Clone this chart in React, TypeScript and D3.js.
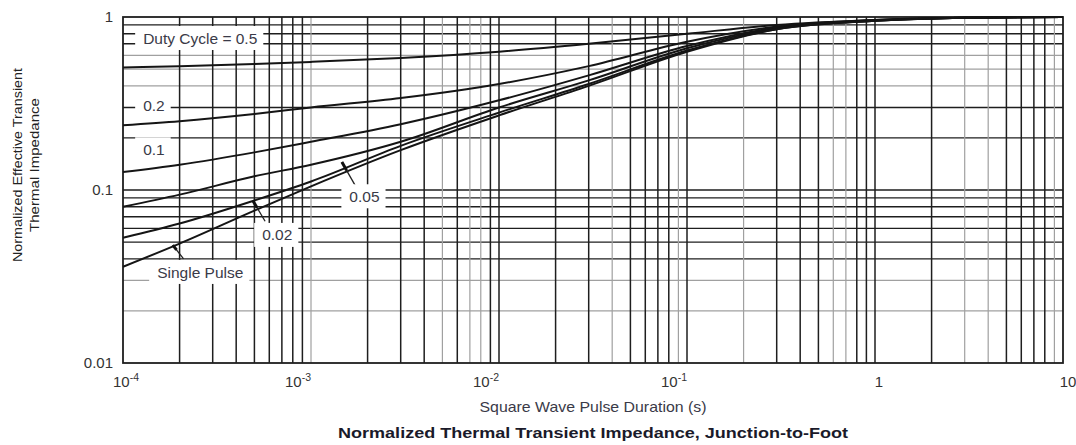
import React from 'react';
import * as d3 from 'd3';

// ---- data ----
const pulseDuration = [1e-4, 2e-4, 5e-4, 1e-3, 3e-3, 1e-2, 3e-2, 0.1, 0.3, 1, 3, 10];
const dutyCycle05 = [0.51, 0.52, 0.535, 0.55, 0.58, 0.63, 0.70, 0.80, 0.90, 0.96, 0.99, 1.0];
const dutyCycle02 = [0.237, 0.25, 0.275, 0.30, 0.34, 0.41, 0.52, 0.72, 0.88, 0.96, 0.99, 1.0];
const dutyCycle01 = [0.127, 0.14, 0.165, 0.19, 0.24, 0.33, 0.46, 0.68, 0.87, 0.96, 0.99, 1.0];
const dutyCycle005 = [0.08, 0.094, 0.12, 0.14, 0.19, 0.30, 0.43, 0.66, 0.86, 0.95, 0.99, 1.0];
const dutyCycle002 = [0.053, 0.064, 0.087, 0.112, 0.18, 0.28, 0.41, 0.64, 0.85, 0.95, 0.99, 1.0];
const singlePulse = [0.036, 0.049, 0.076, 0.105, 0.17, 0.27, 0.40, 0.63, 0.85, 0.95, 0.99, 1.0];
const seriesList = [dutyCycle05, dutyCycle02, dutyCycle01, dutyCycle005, dutyCycle002, singlePulse];

const xTickExponents = [-4, -3, -2, -1, 0, 1];
const yTickValues = [0.01, 0.1, 1];
const yTickLabels = ['0.01', '0.1', '1'];
const lightVertical = [1e-3, 5e-3, 7e-3, 8e-3, 4e-2, 9e-2, 0.2, 0.6, 0.7, 3, 4, 9];
const lightHorizontal = [0.02, 0.03, 0.4, 0.5, 0.6];

const curveLabels = [
  { text: 'Duty Cycle = 0.5', t: 1.28e-4, z: 0.756 },
  { text: '0.2', t: 1.28e-4, z: 0.31 },
  { text: '0.1', t: 1.28e-4, z: 0.172 },
  { text: 'Single Pulse', t: 1.52e-4, z: 0.0336 },
  { text: '0.02', t: 5.5e-4, z: 0.055 },
  { text: '0.05', t: 1.6e-3, z: 0.092 },
];
const leaders = [
  { t1: 1.84e-4, z1: 0.048, t2: 2.1e-4, z2: 0.040 },
  { t1: 4.9e-4, z1: 0.087, t2: 5.7e-4, z2: 0.066 },
  { t1: 1.46e-3, z1: 0.145, t2: 1.72e-3, z2: 0.106 },
];

const xTitle = 'Square Wave Pulse Duration (s)';
const chartTitle = 'Normalized Thermal Transient Impedance, Junction-to-Foot';
const yTitle1 = 'Normalized Effective Transient';
const yTitle2 = 'Thermal Impedance';

const W = 1076;
const H = 445;
const FONT = '"Liberation Sans", Arial, Helvetica, sans-serif';
const LABEL_SIZE = 15.5;

function measure(text: string, size: number): number {
  try {
    const c = document.createElement('canvas').getContext('2d');
    if (c) {
      c.font = `${size}px "Liberation Sans", Arial, sans-serif`;
      return c.measureText(text).width;
    }
  } catch (e) {}
  return text.length * size * 0.5;
}

export default function App() {
  const x = d3.scaleLog().domain([1e-4, 10]).range([123, 1063]);
  const y = d3.scaleLog().domain([0.01, 1]).range([363, 17]);

  const vGrid: number[] = [];
  for (let d = -4; d <= 0; d++) {
    for (let m = 1; m <= 9; m++) {
      const v = m * Math.pow(10, d);
      if (d === -4 && m === 1) continue;
      vGrid.push(v);
    }
  }
  const hGrid: number[] = [];
  for (let d = -2; d <= -1; d++) {
    for (let m = 1; m <= 9; m++) {
      const v = m * Math.pow(10, d);
      if (d === -2 && m === 1) continue;
      hGrid.push(v);
    }
  }
  const isLight = (arr: number[], v: number) => arr.some((a) => Math.abs(a - v) / a < 1e-6);

  const line = d3
    .line<number>()
    .x((_, i) => x(pulseDuration[i]))
    .y((v) => y(v))
    .curve(d3.curveMonotoneX);

  const [x0, x1] = x.range();
  const [yb, yt] = y.range();

  return (
    <svg
      width={W}
      height={H}
      viewBox={`0 0 ${W} ${H}`}
      style={{ position: 'absolute', left: 0, top: 0, background: '#fff', display: 'block' }}
      fontFamily={FONT}
    >
      <rect x={0} y={0} width={W} height={H} fill="#fff" />
      {/* horizontal grid */}
      {hGrid.map((v) => (
        <line
          key={'h' + v}
          x1={x0}
          x2={x1}
          y1={y(v)}
          y2={y(v)}
          stroke={isLight(lightHorizontal, v) ? '#a0a0a0' : '#1e1e1e'}
          strokeWidth={isLight(lightHorizontal, v) ? 1.2 : 1.4}
        />
      ))}
      {/* vertical grid */}
      {vGrid.map((v) => (
        <line
          key={'v' + v}
          x1={x(v)}
          x2={x(v)}
          y1={yb}
          y2={yt}
          stroke={isLight(lightVertical, v) ? '#a0a0a0' : '#1e1e1e'}
          strokeWidth={isLight(lightVertical, v) ? 1.2 : 1.5}
        />
      ))}
      {/* frame */}
      <rect x={x0} y={yt} width={x1 - x0} height={yb - yt} fill="none" stroke="#1e1e1e" strokeWidth={1.8} />

      {/* curves */}
      {seriesList.map((s, i) => (
        <path key={'c' + i} d={line(s) || ''} fill="none" stroke="#151515" strokeWidth={2} strokeLinejoin="round" />
      ))}

      {/* leaders */}
      {leaders.map((l, i) => {
        const ax = x(l.t1), ay = y(l.z1), bx = x(l.t2), by = y(l.z2);
        const mx = ax + (bx - ax) * 0.35, my = ay + (by - ay) * 0.35;
        return (
          <g key={'l' + i}>
            <line x1={ax} y1={ay} x2={bx} y2={by} stroke="#222" strokeWidth={1.3} />
            <line x1={ax} y1={ay} x2={mx} y2={my} stroke="#111" strokeWidth={3} />
          </g>
        );
      })}

      {/* curve labels with white boxes */}
      {curveLabels.map((c, i) => {
        const tx = x(c.t);
        const ty = y(c.z);
        const w = measure(c.text, LABEL_SIZE);
        return (
          <g key={'t' + i}>
            <rect x={tx - 8} y={ty - 12} width={w + 14} height={24} fill="#fff" />
            <text x={tx} y={ty} dy="0.36em" fontSize={LABEL_SIZE} fill="#3a3a48">
              {c.text}
            </text>
          </g>
        );
      })}

      {/* y tick labels */}
      {yTickValues.map((v, i) => (
        <text key={'yt' + i} x={x0 - 10} y={y(v)} dy="0.36em" textAnchor="end" fontSize={15} fill="#333">
          {yTickLabels[i]}
        </text>
      ))}

      {/* x tick labels */}
      {xTickExponents.map((e) => {
        const px = x(Math.pow(10, e));
        const py = 387;
        if (e === 0) {
          return (
            <text key={'xt' + e} x={px + 4} y={py} textAnchor="middle" fontSize={15} fill="#333">1</text>
          );
        }
        if (e === 1) {
          return (
            <text key={'xt' + e} x={px + 5} y={py} textAnchor="middle" fontSize={15} fill="#333">10</text>
          );
        }
        return (
          <text key={'xt' + e} x={e === -4 ? px - 10 : px} y={py} textAnchor={e === -4 ? 'start' : 'end'} fontSize={15} fill="#333">
            10
            <tspan fontSize={10.5} dy={-6}>{'-' + Math.abs(e)}</tspan>
          </text>
        );
      })}

      {/* axis titles */}
      <text x={593} y={412} textAnchor="middle" fontSize={15} fill="#3a3a48" textLength={227} lengthAdjust="spacingAndGlyphs">
        {xTitle}
      </text>
      <text x={593} y={438} textAnchor="middle" fontSize={15} fontWeight="bold" fill="#1a1a2a" textLength={510} lengthAdjust="spacingAndGlyphs">
        {chartTitle}
      </text>
      <text transform="translate(22,165) rotate(-90)" textAnchor="middle" fontSize={12.5} fill="#222" textLength={194} lengthAdjust="spacingAndGlyphs">
        {yTitle1}
      </text>
      <text transform="translate(39,165) rotate(-90)" textAnchor="middle" fontSize={12.5} fill="#222" textLength={134} lengthAdjust="spacingAndGlyphs">
        {yTitle2}
      </text>
    </svg>
  );
}
